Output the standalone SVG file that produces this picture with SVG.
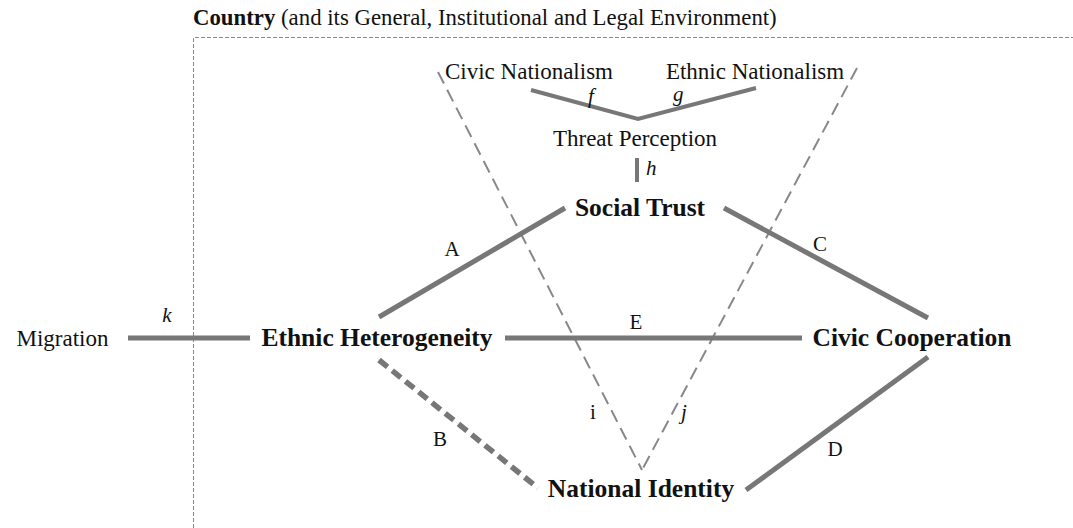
<svg xmlns="http://www.w3.org/2000/svg" width="1073" height="528" viewBox="0 0 1073 528">
  <style>
    text { font-family: "Liberation Serif", "Times New Roman", serif; fill: #111; }
    .node { font-size: 25.5px; font-weight: bold; }
    .plain { font-size: 23px; }
    .lbl { font-size: 21px; }
    .solid { stroke: #777; stroke-width: 5; fill: none; }
    .thin { stroke: #777; stroke-width: 4; fill: none; }
    .dashthick { stroke: #777; stroke-width: 5.5; stroke-dasharray: 11 6; fill: none; }
    .dashthin { stroke: #888; stroke-width: 2; stroke-dasharray: 13 7; fill: none; }
    .frame { stroke: #888; stroke-width: 1; stroke-dasharray: 4 2; fill: none; }
  </style>
  <rect width="1073" height="528" fill="#fff"/>

  <!-- country boundary -->
  <g id="country">
    <text x="193" y="25" font-size="22.8"><tspan font-weight="bold">Country</tspan> (and its General, Institutional and Legal Environment)</text>
    <path class="frame" d="M193.5,528 V37.5 H1073"/>
  </g>

  <!-- connectors -->
  <g id="connectors">
    <line class="dashthin" x1="438" y1="72" x2="642" y2="470"/>
    <line class="dashthin" x1="857" y1="68" x2="642" y2="470"/>
    <polyline class="thin" points="531,90 638,119 756,88"/>
    <line class="thin" x1="637" y1="158" x2="637" y2="182"/>
    <line class="solid" x1="379" y1="317" x2="565" y2="208"/>
    <line class="solid" x1="724" y1="208" x2="928" y2="318"/>
    <line class="solid" x1="128" y1="338" x2="250" y2="338"/>
    <line class="solid" x1="505" y1="338" x2="802" y2="338"/>
    <line class="solid" x1="746" y1="490" x2="928" y2="357"/>
    <line class="dashthick" x1="379" y1="360" x2="538" y2="488"/>
    <text class="lbl" x="588" y="103" font-style="italic">f</text>
    <text class="lbl" x="673" y="101" font-style="italic">g</text>
    <text class="lbl" x="646" y="175" font-style="italic">h</text>
    <text class="lbl" x="452" y="256" text-anchor="middle">A</text>
    <text class="lbl" x="820" y="251" text-anchor="middle">C</text>
    <text class="lbl" x="636" y="329" text-anchor="middle">E</text>
    <text class="lbl" x="440" y="446" text-anchor="middle">B</text>
    <text class="lbl" x="835" y="456" text-anchor="middle">D</text>
    <text class="lbl" x="167" y="322" text-anchor="middle" font-style="italic">k</text>
    <text class="lbl" x="593" y="419" text-anchor="middle">i</text>
    <text class="lbl" x="684" y="419" text-anchor="middle" font-style="italic">j</text>
  </g>

  <g id="civic-nationalism"><text class="plain" x="529" y="79" text-anchor="middle">Civic Nationalism</text></g>
  <g id="ethnic-nationalism"><text class="plain" x="755" y="79" text-anchor="middle">Ethnic Nationalism</text></g>
  <g id="threat-perception"><text class="plain" x="635" y="146" text-anchor="middle">Threat Perception</text></g>
  <g id="social-trust"><text class="node" x="640" y="216" text-anchor="middle">Social Trust</text></g>
  <g id="migration"><text class="plain" x="62.5" y="346" text-anchor="middle" font-size="24.5">Migration</text></g>
  <g id="ethnic-heterogeneity"><text class="node" x="377" y="346" text-anchor="middle">Ethnic Heterogeneity</text></g>
  <g id="civic-cooperation"><text class="node" x="912" y="346" text-anchor="middle">Civic Cooperation</text></g>
  <g id="national-identity"><text class="node" x="641" y="497" text-anchor="middle">National Identity</text></g>
</svg>
